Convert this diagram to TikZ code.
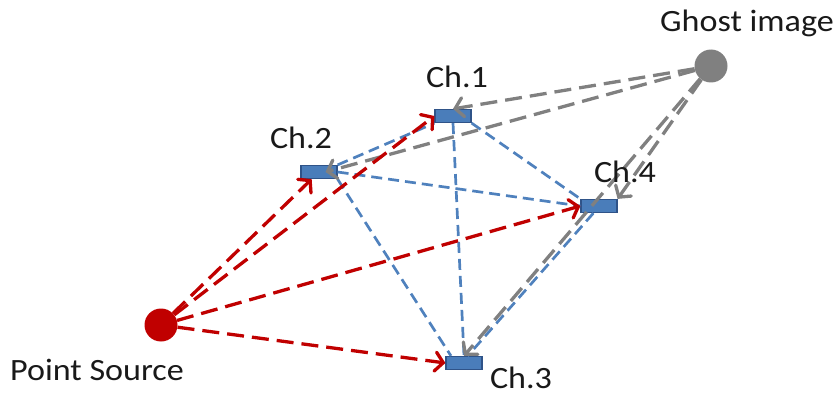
\documentclass[tikz,border=0pt]{standalone}
\usepackage{fontspec}
\setmainfont{Carlito}
\usetikzlibrary{arrows.meta,calc}
\definecolor{srcred}{HTML}{C00000}
\definecolor{ghostgray}{HTML}{808080}
\definecolor{chfill}{HTML}{4A7DBA}
\definecolor{chedge}{HTML}{2F5388}
\definecolor{linkblue}{HTML}{4F81BD}
\newcommand{\widetext}[1]{\scalebox{1.1}[1]{#1}}
\tikzset{
  channel/.style={rectangle, fill=chfill, draw=chedge, line width=1.2pt,
    minimum width=36pt, minimum height=13pt, inner sep=0pt},
  dot/.style={circle, minimum size=33pt, inner sep=0pt},
  lbl/.style={font=\fontsize{31}{36}\selectfont, text=black!90, anchor=base, inner sep=0pt},
  tipbarb/.style={-{Straight Barb[length=8pt,width=19pt,line cap=round]}},
  emit/.style={draw=srcred, line width=3.3pt, dash pattern=on 17pt off 8pt, tipbarb},
  ghostray/.style={draw=ghostgray, line width=3.3pt, dash pattern=on 17pt off 8pt, tipbarb},
  link/.style={draw=linkblue, line width=2.7pt, dash pattern=on 11pt off 6pt}
}
\begin{document}
\begin{tikzpicture}[x=1pt,y=-1pt]
\useasboundingbox (0,0) rectangle (836,396);

% channels
\node[channel] (ch1) at (453,116) {};
\node[channel] (ch2) at (319,172) {};
\node[channel] (ch3) at (464,363) {};
\node[channel] (ch4) at (599,206) {};

% source and its ghost
\node[dot, fill=srcred] (src) at (161,325) {};
\node[dot, fill=ghostgray] (ghost) at (711,66) {};

% links between the channels
\draw[link] (ch2.north east) -- (ch1.south west);
\draw[link] (ch1.south) -- (ch3.north);
\draw[link] (ch1.south east) -- (ch4.north west);
\draw[link] (ch2.east) -- (ch4.west);
\draw[link] (ch2.south east) -- ($(ch3.north west)!0.3!(ch3.north)$);
\draw[link] ($(ch4.south)!0.3!(ch4.south west)$) -- ($(ch3.north)!0.2!(ch3.north east)$);

% rays from the ghost image
\draw[ghostray] (ghost) -- (ch1.north);
\draw[ghostray] (ghost) -- ($(ch2.center)!0.35!(ch2.east)$);
\draw[ghostray] (ghost) -- (ch4.north east);
\draw[ghostray] (ghost) -- (ch3.north);

% rays from the point source
\draw[emit] (src) -- (ch2);
\draw[emit] (src) -- (ch1.west);
\draw[emit] (src) -- (ch4.west);
\draw[emit] (src) -- (ch3.west);

% labels
\node[lbl] (lghost) at (747,32) {\widetext{Ghost image}};
\node[lbl] (l1) at (457,88) {\widetext{Ch.1}};
\node[lbl] (l2) at (301,148) {\widetext{Ch.2}};
\node[lbl] (l4) at (625,182) {\widetext{Ch.4}};
\node[lbl] (l3) at (521,388) {\widetext{Ch.3}};
\node[lbl] (lsrc) at (97,380) {\widetext{Point Source}};
\end{tikzpicture}
\end{document}
